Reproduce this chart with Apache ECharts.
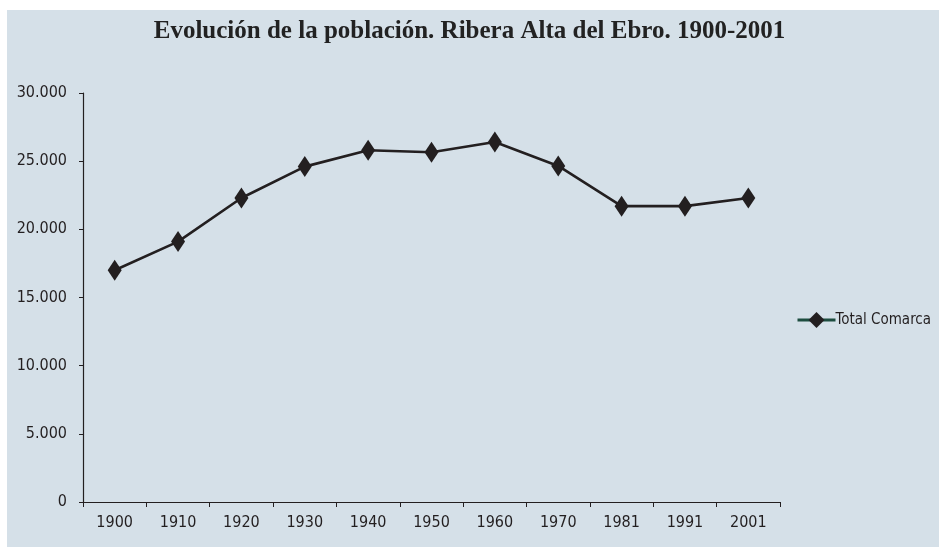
<!DOCTYPE html>
<html><head><meta charset="utf-8">
<script src="https://cdn.jsdelivr.net/npm/echarts@6/dist/echarts.min.js"></script>
<style>html,body{margin:0;padding:0;background:#fff}#c{width:939px;height:549px}</style>
</head><body><div id="c"></div>
<script>
const years = ['1900','1910','1920','1930','1940','1950','1960','1970','1981','1991','2001'];
const totalComarca = [17000, 19100, 22300, 24600, 25800, 25650, 26400, 24650, 21700, 21700, 22300];
const seriesName = 'Total Comarca';
const titleText = 'Evolución de la población. Ribera Alta del Ebro. 1900-2001';

const fmt = v => String(v).replace(/\B(?=(\d{3})+(?!\d))/g, '.');
const lblFont = '"Liberation Sans Narrow","DejaVu Sans Condensed",sans-serif';
const chart = echarts.init(document.getElementById('c'));
chart.setOption({
  backgroundColor: '#ffffff',
  animation: false,
  graphic: [{type:'rect', silent:true, z:-10, shape:{x:7,y:10,width:932,height:537}, style:{fill:'#d5e0e8'}}],
  title: {text: titleText, left: 'center', top: 14,
    textStyle:{fontFamily:'"Liberation Serif",serif', fontWeight:'bold', fontSize:25, color:'#222'}},
  legend: {data:[seriesName], left: 791, top: 307, orient:'vertical',
    itemWidth: 38, itemHeight: 20, itemGap: 4,
    lineStyle:{color:'#1d4d3f', width:3},
    itemStyle:{color:'#231f20'},
    textStyle:{fontFamily:lblFont, fontSize:15, color:'#231f20', padding:[0,0,0,-5]}},
  grid: {left: 83, right: 159, top: 93, bottom: 47},
  xAxis: {type:'category', data: years, boundaryGap:true,
    axisLine:{lineStyle:{color:'#231f20', width:1.2}},
    axisTick:{show:true, length:5, lineStyle:{color:'#231f20'}},
    axisLabel:{fontFamily:lblFont, fontSize:16, color:'#231f20', margin:13}},
  yAxis: {type:'value', min:0, max:30000, interval:5000,
    axisLine:{show:true, lineStyle:{color:'#231f20', width:1.2}},
    axisTick:{show:true, length:4, lineStyle:{color:'#231f20'}},
    splitLine:{show:false},
    axisLabel:{fontFamily:lblFont, fontSize:16, color:'#231f20', margin:16, formatter: v => fmt(v)}},
  series: [{name: seriesName, type:'line', data: totalComarca,
    symbol:'diamond', symbolSize:[14,21],
    lineStyle:{color:'#231f20', width:2.6},
    itemStyle:{color:'#231f20'}}]
});
</script></body></html>
